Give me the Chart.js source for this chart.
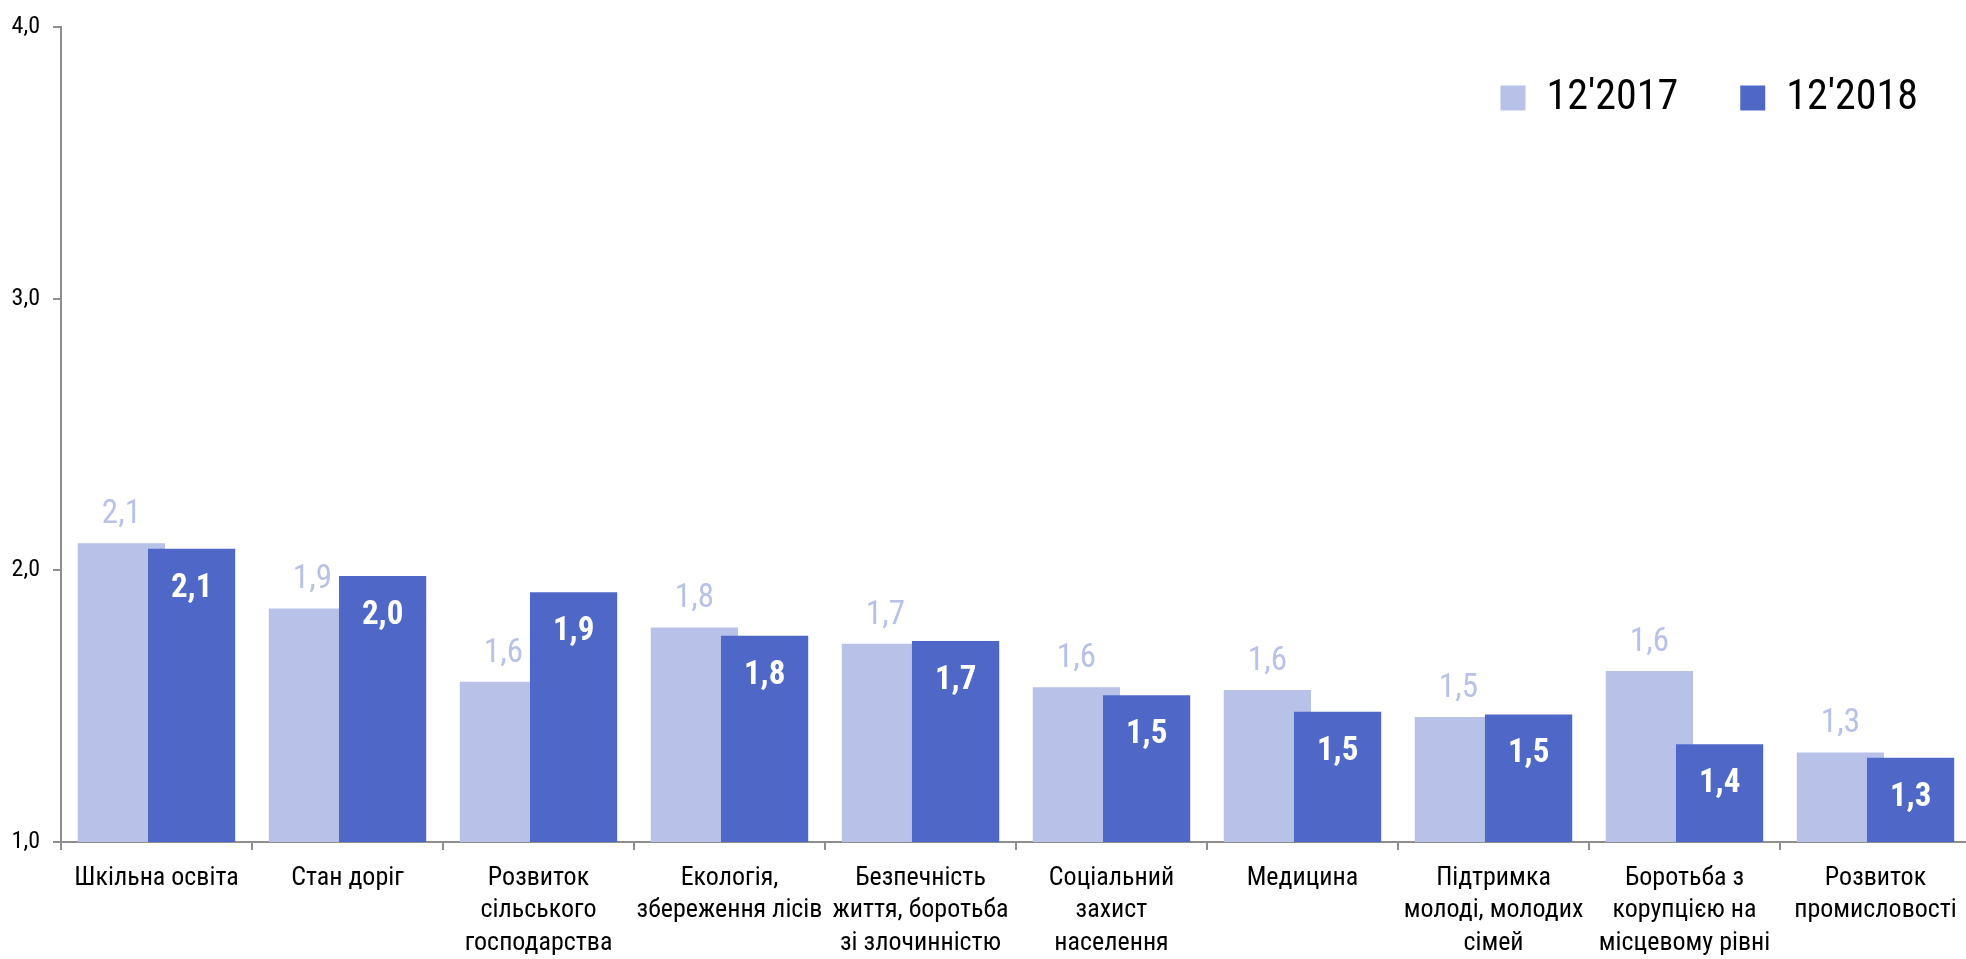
<!DOCTYPE html>
<html lang="uk">
<head>
<meta charset="utf-8">
<title>12'2017 / 12'2018</title>
<script src="https://cdn.jsdelivr.net/npm/chart.js@4/dist/chart.umd.min.js"></script>
<style>
    html, body { margin: 0; padding: 0; background: #ffffff; overflow: hidden; }
    /* the plot runs a few pixels past the right edge of the window, as in the original */
    #wrap { position: relative; width: 1971px; height: 959px; }
</style>
</head>
<body>
<div id="wrap"><canvas id="chart"></canvas></div>
<script>
'use strict';


// 
// Data
//

const categories = [
    'Шкільна освіта',
    'Стан доріг',
    ['Розвиток', 'сільського', 'господарства'],
    ['Екологія,', 'збереження лісів'],
    ['Безпечність', 'життя, боротьба', 'зі злочинністю'],
    ['Соціальний', 'захист', 'населення'],
    'Медицина',
    ['Підтримка', 'молоді, молодих', 'сімей'],
    ['Боротьба з', 'корупцією на', 'місцевому рівні'],
    ['Розвиток', 'промисловості']
];

const seriesNames = ["12'2017", "12'2018"];

const values2017 = [2.10, 1.86, 1.59, 1.79, 1.73, 1.57, 1.56, 1.46, 1.63, 1.33];
const values2018 = [2.08, 1.98, 1.92, 1.76, 1.74, 1.54, 1.48, 1.47, 1.36, 1.31];

const yTicks = [1, 2, 3, 4];


// 
// Look
//

const FONT = '"Roboto Condensed", "Liberation Sans", sans-serif';
const LIGHT = '#b8c2e8';
const DARK = '#4f68c8';
const AXIS = '#8e8e8e';


function formatValue(v) {
    return v.toFixed(1).replace('.', ',');
}


// Draw 2017 first, 2018 over it (bars overlap a little), then the value labels
const barsAndLabels = {
    id: 'barsAndLabels',
    beforeDatasetDraw() {
        return false;
    },
    afterDatasetsDraw(chart) {
        const ctx = chart.ctx;
        const area = chart.chartArea;

        ctx.save();
        ctx.beginPath();
        ctx.rect(area.left, area.top, area.right - area.left, area.bottom - area.top);
        ctx.clip();
        chart.data.datasets.forEach((ds, i) => {
            chart.getDatasetMeta(i).controller.draw();
        });
        ctx.restore();

        ctx.save();
        ctx.textAlign = 'center';
        ctx.textBaseline = 'alphabetic';

        let meta = chart.getDatasetMeta(0);
        ctx.fillStyle = LIGHT;
        ctx.font = '33px ' + FONT;
        meta.data.forEach((bar, j) => {
            ctx.fillText(formatValue(values2017[j]), bar.x, bar.y - 20);
        });

        meta = chart.getDatasetMeta(1);
        ctx.fillStyle = '#ffffff';
        ctx.font = 'bold 33px ' + FONT;
        meta.data.forEach((bar, j) => {
            ctx.fillText(formatValue(values2018[j]), bar.x, bar.y + 48);
        });
        ctx.restore();
    }
};


// Legend floats inside the plot, top right, and takes no layout space
const floatingLegend = {
    id: 'floatingLegend',
    afterInit(chart) {
        const legend = chart.legend;
        const fit = legend.fit;
        legend.fit = function () {
            fit.call(this);
            this.realHeight = this.height;
            this.height = 0;
        };
    },
    afterLayout(chart) {
        const legend = chart.legend;
        legend.top = 15;
        legend.bottom = legend.top + legend.realHeight;
        legend.right = 1980;
    }
};


new Chart(document.getElementById('chart'), {
    type: 'bar',
    data: {
        labels: categories,
        datasets: [
            {
                label: seriesNames[0],
                data: values2017,
                backgroundColor: LIGHT,
                borderWidth: 0
            },
            {
                label: seriesNames[1],
                data: values2018,
                backgroundColor: DARK,
                borderWidth: 0
            }
        ]
    },
    options: {
        responsive: true,
        maintainAspectRatio: false,
        animation: false,
        events: [],
        categoryPercentage: 0.735,
        barPercentage: 1.243,
        layout: { padding: { top: 22, right: 0, left: 0, bottom: 0 } },
        plugins: {
            tooltip: { enabled: false },
            legend: {
                position: 'top',
                align: 'end',
                labels: {
                    color: '#000000',
                    font: { family: FONT, size: 42 },
                    boxWidth: 25,
                    boxHeight: 25,
                    padding: 62
                }
            }
        },
        scales: {
            x: {
                grid: {
                    offset: true,
                    drawOnChartArea: false,
                    tickLength: 8,
                    color: AXIS,
                    lineWidth: 2
                },
                border: { color: AXIS, width: 2 },
                ticks: {
                    color: '#000000',
                    font: { family: FONT, size: 26, lineHeight: 1.25 },
                    padding: 12,
                    maxRotation: 0,
                    autoSkip: false
                },
                afterFit: (scale) => {
                    scale.height = 117;
                    scale.paddingLeft = 0;
                    scale.paddingRight = 0;
                }
            },
            y: {
                min: yTicks[0],
                max: yTicks[yTicks.length - 1],
                afterBuildTicks: (scale) => {
                    scale.ticks = yTicks.map(v => ({ value: v }));
                },
                grid: {
                    drawOnChartArea: false,
                    tickLength: 8,
                    color: AXIS,
                    lineWidth: 2
                },
                border: { color: AXIS, width: 2 },
                ticks: {
                    color: '#000000',
                    font: { family: FONT, size: 24 },
                    padding: 13,
                    callback: (v) => formatValue(v)
                },
                afterFit: (scale) => { scale.width = 61; }
            }
        }
    },
    plugins: [barsAndLabels, floatingLegend]
});
</script>
</body>
</html>
